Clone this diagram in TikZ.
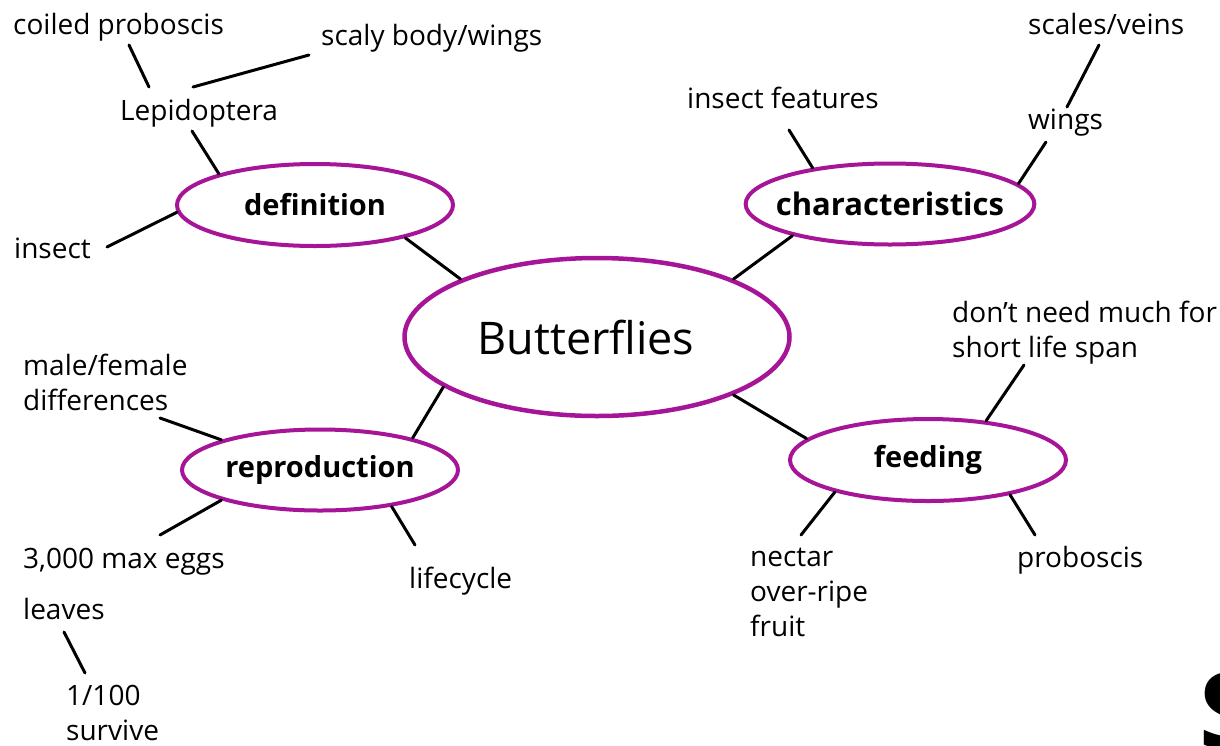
\documentclass[tikz,border=0pt]{standalone}
\usepackage{fontspec}
\setmainfont{Open Sans}
\usetikzlibrary{shapes.geometric}
\definecolor{mapmagenta}{RGB}{166,20,152}

\begin{document}
\begin{tikzpicture}[x=1pt, y=-1pt,
    topic/.style={ellipse, draw=mapmagenta, line width=4pt, inner sep=0pt,
        font=\fontsize{29}{34}\selectfont\bfseries},
    leaf/.style={anchor=base west, inner sep=0pt, align=left,
        font=\fontsize{28}{35}\selectfont},
    twig/.style={line width=3pt, line cap=round}]
    \useasboundingbox (0,0) rectangle (1220,745);

    % Topic ellipses
    \node[topic, minimum width=385, minimum height=158, line width=4.5pt,
        font=\fontsize{45}{50}\selectfont] (bfly) at (597,337) {Butterflies\hspace*{22pt}};
    \node[topic, minimum width=276, minimum height=82] (def) at (315,205) {definition};
    \node[topic, minimum width=285, minimum height=81, inner xsep=-12pt,
        font=\fontsize{31}{34}\selectfont\bfseries] (char) at (890,204) {characteristics};
    \node[topic, minimum width=276, minimum height=81] (repro) at (320,470) {reproduction};
    \node[topic, minimum width=276, minimum height=82] (feed) at (928,460) {feeding};

    % Labels (multi-line ones sit on their last line)
    \node[leaf] (coiled) at (13,34) {coiled proboscis};
    \node[leaf] (scaly) at (321,45) {scaly body/wings};
    \node[leaf] (lep) at (120,120) {Lepidoptera};
    \node[leaf] (insect) at (14,258) {insect};
    \node[leaf] (features) at (687,108) {insect features};
    \node[leaf] (scales) at (1028,34) {scales/veins};
    \node[leaf] (wings) at (1028,129) {wings};
    \node[leaf] (sexes) at (23,410) {male/female\\differences};
    \node[leaf] (eggs) at (23,568) {3,000 max eggs};
    \node[leaf] (cycle) at (409,588) {lifecycle};
    \node[leaf] (leaves) at (23,619) {leaves};
    \node[leaf] (survive) at (66,740) {1/100\\survive};
    \node[leaf] (span) at (952,357) {don't need much for\\short life span};
    \node[leaf] (nectar) at (750,636) {nectar\\over-ripe\\fruit};
    \node[leaf] (trunk) at (1017,567) {proboscis};
    \node[anchor=base west, inner sep=0pt, font=\fontsize{105}{110}\selectfont\bfseries]
        (cut) at (1199,748) {S};

    % Free ends of the twigs
    \coordinate (coiled-end) at (129,45);
    \coordinate (lep-top) at (149,87);
    \coordinate (lep-right) at (193,87);
    \coordinate (scaly-end) at (309,55);
    \coordinate (lep-bottom) at (192,131);
    \coordinate (insect-end) at (107,247);
    \coordinate (features-end) at (789,130);
    \coordinate (scales-end) at (1099,45);
    \coordinate (wings-top) at (1067,107);
    \coordinate (wings-bottom) at (1046,142);
    \coordinate (sexes-end) at (160,418);
    \coordinate (eggs-end) at (160,535);
    \coordinate (cycle-end) at (415,545);
    \coordinate (leaves-end) at (64,632);
    \coordinate (survive-end) at (85,673);
    \coordinate (span-end) at (1024,365);
    \coordinate (nectar-end) at (801,535);
    \coordinate (trunk-end) at (1035,535);

    % Twigs between topics
    \draw[twig] (bfly.157) -- (def.340);
    \draw[twig] (bfly.23) -- (char.198);
    \draw[twig] (bfly.198) -- (repro.19);
    \draw[twig] (bfly.337) -- (feed.170);

    % Twigs to labels
    \draw[twig] (coiled-end) -- (lep-top);
    \draw[twig] (lep-right) -- (scaly-end);
    \draw[twig] (lep-bottom) -- (def.162);
    \draw[twig] (insect-end) -- (def.183);
    \draw[twig] (features-end) -- (char.155);
    \draw[twig] (scales-end) -- (wings-top);
    \draw[twig] (wings-bottom) -- (char.9);
    \draw[twig] (sexes-end) -- (repro.163);
    \draw[twig] (eggs-end) -- (repro.197);
    \draw[twig] (cycle-end) -- (repro.333);
    \draw[twig] (leaves-end) -- (survive-end);
    \draw[twig] (span-end) -- (feed.34);
    \draw[twig] (nectar-end) -- (feed.199);
    \draw[twig] (trunk-end) -- (feed.337);
\end{tikzpicture}
\end{document}
